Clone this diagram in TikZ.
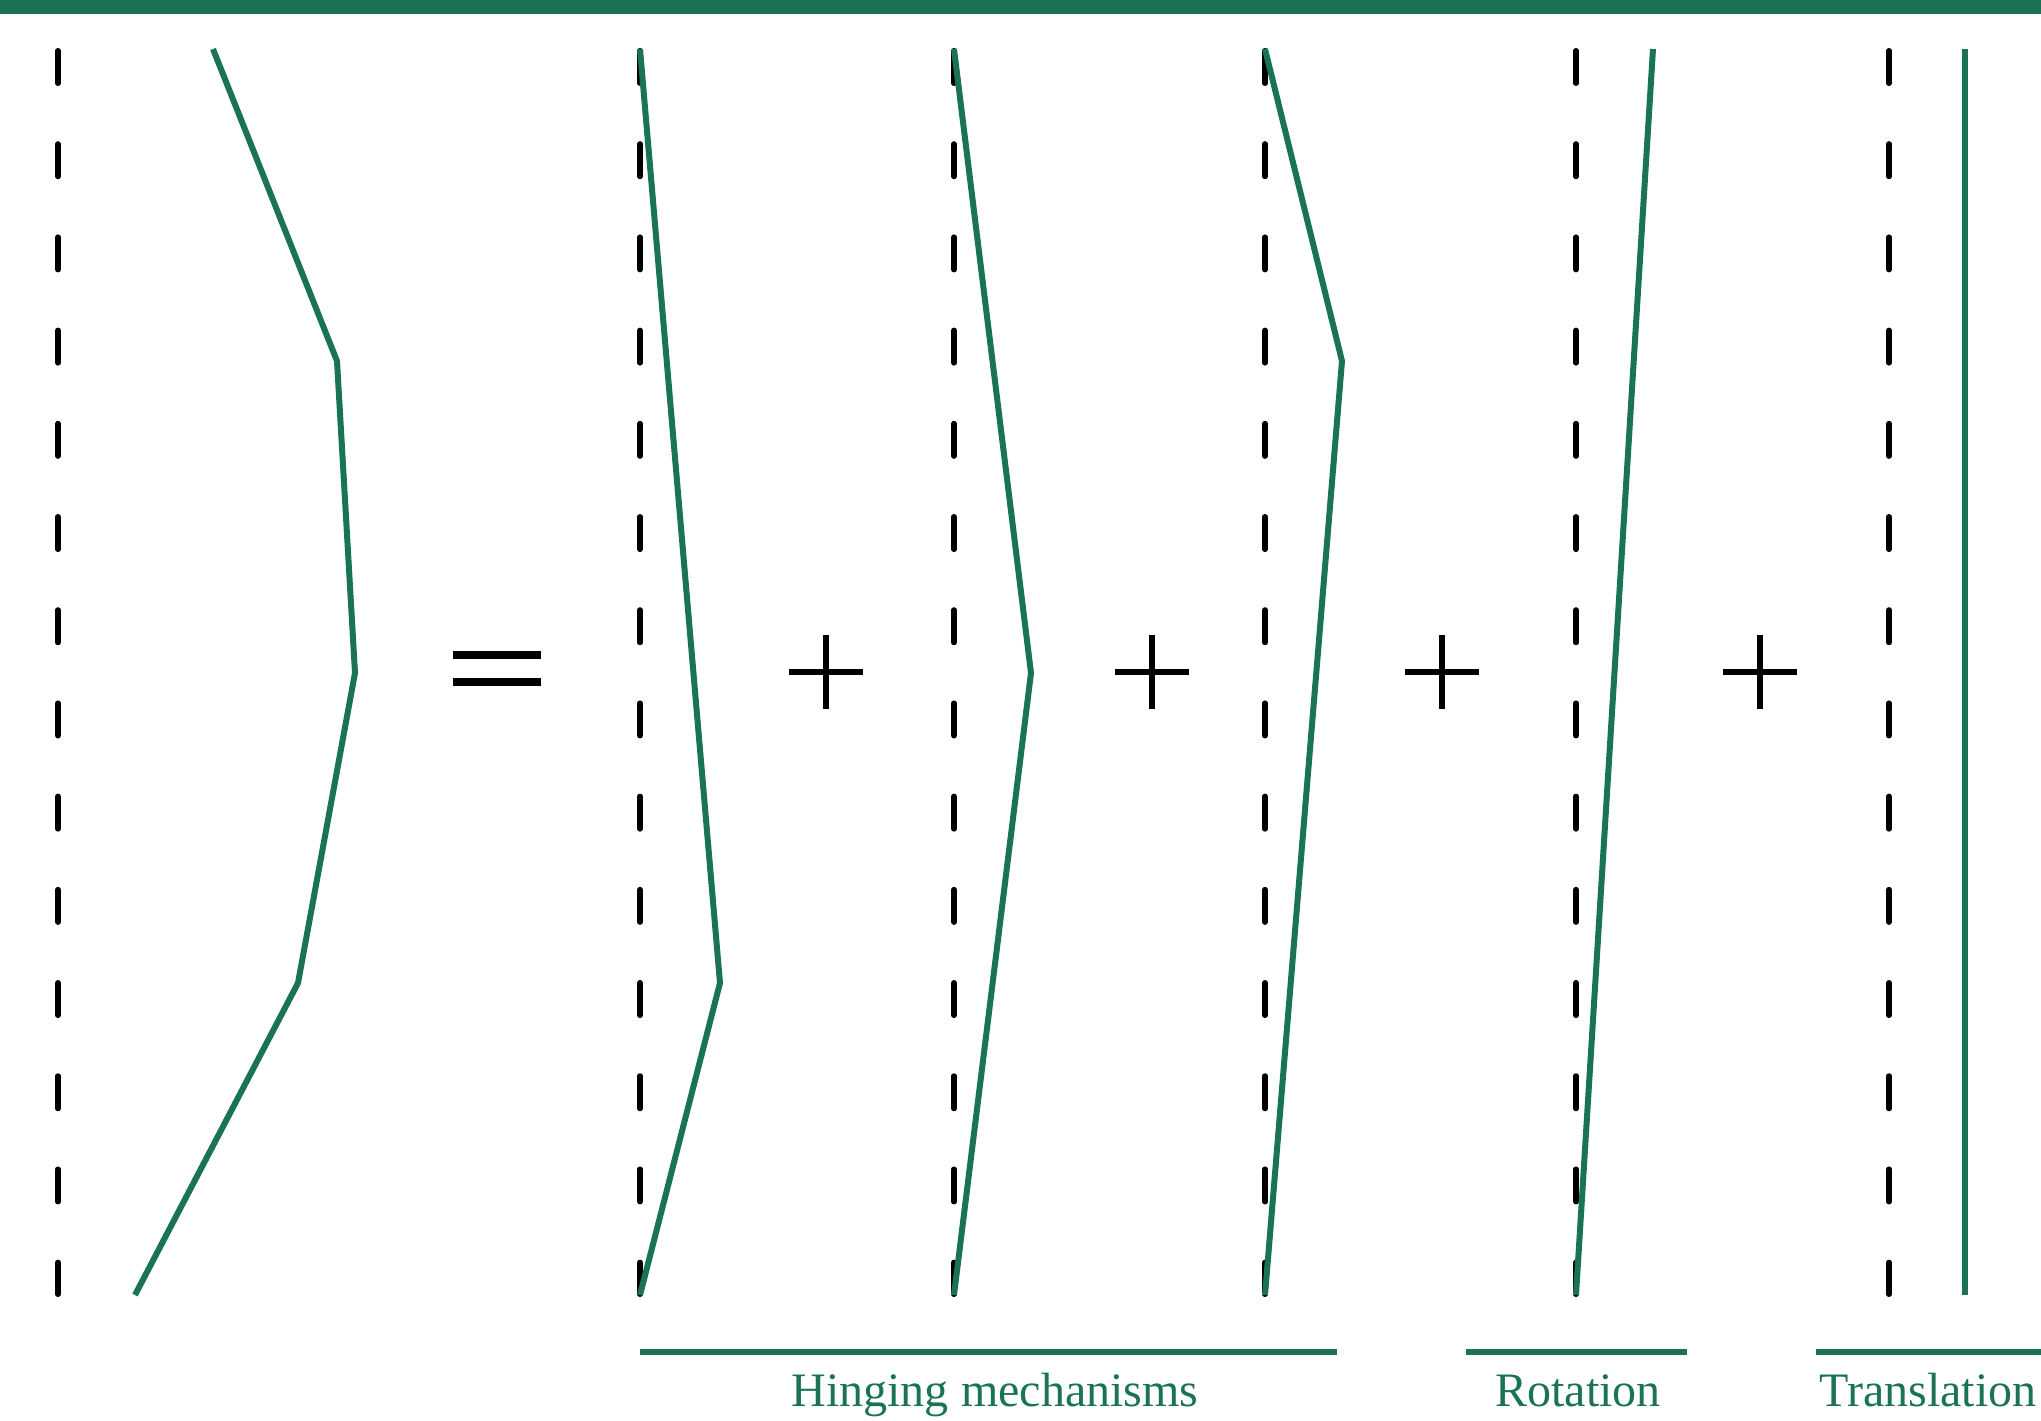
\documentclass[tikz,border=0pt]{standalone}
\usepackage{fontspec}
\setmainfont{Liberation Serif}
\definecolor{dgreen}{RGB}{26,116,84}
\begin{document}
\begin{tikzpicture}[x=0.01cm,y=-0.01cm,
  axisline/.style={line width=0.055cm, black, dash pattern=on 0.325cm off 0.6065cm, line cap=round},
  profile/.style={line width=0.06cm, dgreen, line join=miter},
  opsign/.style={line width=0.055cm, black},
  bracket/.style={line width=0.055cm, dgreen},
  lab/.style={text=dgreen, font=\fontsize{13.66pt}{16pt}\selectfont, anchor=base, inner sep=0pt}]
\useasboundingbox (0,0) rectangle (2041,1421);
% top bar
\fill[dgreen] (0,0) rectangle (2041,14);
% dashed axes
\foreach \x in {58,640,954,1265,1576,1889}
  \draw[axisline] (\x,50.75) -- (\x,1294.25);
% profiles
\draw[profile] (213,49) -- (337,361) -- (355,673) -- (298,983) -- (135,1295);
\draw[profile] (640,49) -- (720,983) -- (640,1295);
\draw[profile] (954,49) -- (1031,673) -- (954,1295);
\draw[profile] (1265,49) -- (1342,361) -- (1265,1295);
\draw[profile] (1653,49) -- (1576,1295);
\draw[profile] (1965,49) -- (1965,1295);
% equals sign
\draw[line width=0.075cm] (453,655) -- (541,655) (453,682) -- (541,682);
% plus signs
\foreach \x in {826,1152,1442,1760}
  \draw[opsign] (\x-37,672) -- (\x+37,672) (\x,635) -- (\x,709);
% brackets
\coordinate (h1) at (640,1352); \coordinate (h2) at (1337,1352);
\coordinate (r1) at (1466,1352); \coordinate (r2) at (1687,1352);
\coordinate (t1) at (1816,1352); \coordinate (t2) at (2041,1352);
\draw[bracket] (h1) -- (h2);
\draw[bracket] (r1) -- (r2);
\draw[bracket] (t1) -- (t2);
% labels
\node[lab] (hinge) at (995,1406) {Hinging mechanisms};
\node[lab] (rot) at (1578,1406) {Rotation};
\node[lab] (trans) at (1928,1406) {Translation};
\end{tikzpicture}
\end{document}
